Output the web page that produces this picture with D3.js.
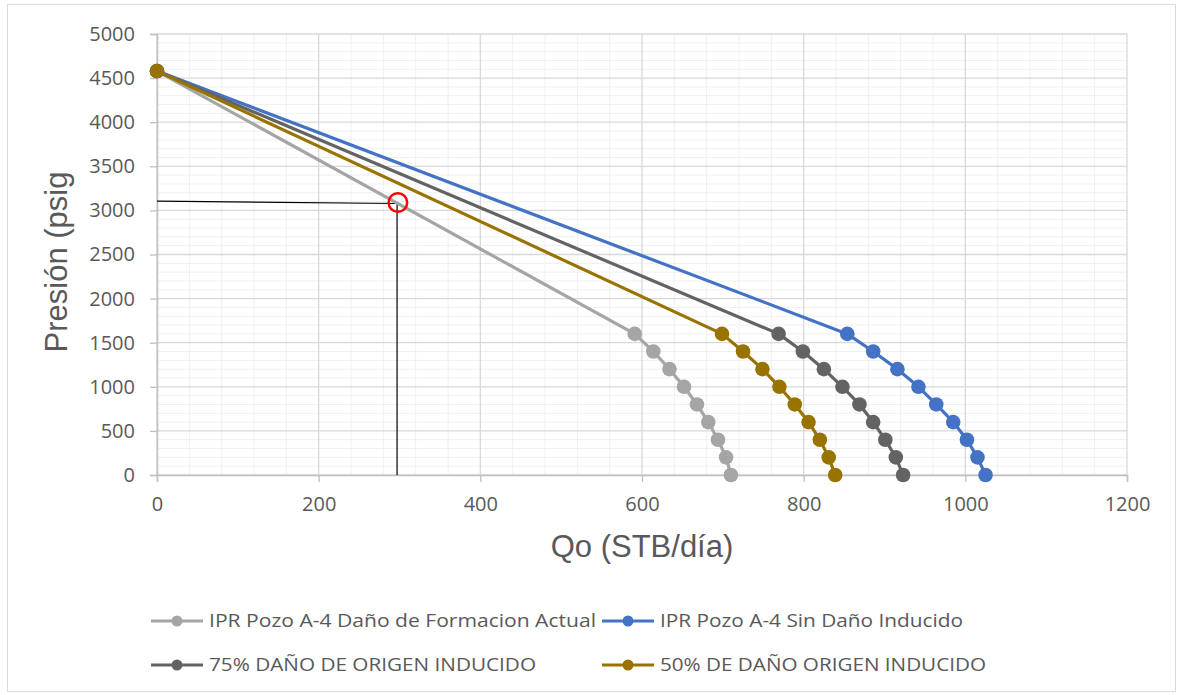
<!DOCTYPE html>
<html><head><meta charset="utf-8">
<script src="https://cdn.jsdelivr.net/npm/d3@7"></script>
<style>
body{margin:0;background:#fff;}
svg{display:block;}
</style></head>
<body>
<svg id="c" width="1178" height="695"></svg>
<script>
// ---- data ----
const pressures = [4580, 1600, 1400, 1200, 1000, 800, 600, 400, 200, 0];
const qActual   = [0, 591, 614, 634, 652, 668, 682, 694, 704, 710];
const qSinDano  = [0, 854, 886, 916, 942, 964, 985, 1002, 1015, 1025];
const q75       = [0, 769, 799, 825, 848, 869, 886, 901, 914, 923];
const q50       = [0, 699, 725, 749, 770, 789, 806, 820, 831, 839];
const seriesNames = ["IPR Pozo A-4 Daño de Formacion Actual", "IPR Pozo A-4 Sin Daño Inducido",
                     "75% DAÑO DE ORIGEN INDUCIDO", "50% DE DAÑO ORIGEN INDUCIDO"];
const xTicks = [0, 200, 400, 600, 800, 1000, 1200];
const yTicks = [0, 500, 1000, 1500, 2000, 2500, 3000, 3500, 4000, 4500, 5000];
const refLineQ = 297, refLineP0 = 3105, refLineP1 = 3078;
const refPoint = {q: 298, p: 3090};

const colors = ["#a5a5a5", "#4472c4", "#636363", "#997300"];
const seriesQ = [qActual, qSinDano, q75, q50];

const svg = d3.select("#c");
svg.append("rect").attr("x",7.5).attr("y",4.5).attr("width",1168).attr("height",687)
  .attr("fill","#fff").attr("stroke","#d9d9d9").attr("stroke-width",1);

const x = d3.scaleLinear().domain([0,1200]).range([157,1127]);
const y = d3.scaleLinear().domain([0,5000]).range([475,34]);

// minor grid
const g = svg.append("g");
const xMinor = d3.range(0,1201,40).filter(v => v % 200 !== 0);
const yMinor = d3.range(0,5001,100).filter(v => v % 500 !== 0);
g.selectAll(".xm").data(xMinor).join("line")
  .attr("x1",d=>x(d)).attr("x2",d=>x(d)).attr("y1",y(0)).attr("y2",y(5000))
  .attr("stroke","#f0f0f0").attr("stroke-width",1);
g.selectAll(".ym").data(yMinor).join("line")
  .attr("x1",x(0)).attr("x2",x(1200)).attr("y1",d=>y(d)).attr("y2",d=>y(d))
  .attr("stroke","#f0f0f0").attr("stroke-width",1);
// major grid
g.selectAll(".xM").data(xTicks).join("line")
  .attr("x1",d=>x(d)).attr("x2",d=>x(d)).attr("y1",y(0)).attr("y2",y(5000))
  .attr("stroke","#d9d9d9").attr("stroke-width",1.3);
g.selectAll(".yM").data(yTicks).join("line")
  .attr("x1",x(0)).attr("x2",x(1200)).attr("y1",d=>y(d)).attr("y2",d=>y(d))
  .attr("stroke","#d9d9d9").attr("stroke-width",1.3);

// axes
const font = "'Open Sans', 'Noto Sans', sans-serif";
const xAxis = svg.append("g").attr("transform",`translate(0,${y(0)})`)
  .call(d3.axisBottom(x).tickValues(xTicks).tickSize(7).tickPadding(15).tickFormat(d3.format("d")));
const yAxis = svg.append("g").attr("transform",`translate(${x(0)},0)`)
  .call(d3.axisLeft(y).tickValues(yTicks).tickSize(7).tickPadding(15).tickFormat(d3.format("d")));
[xAxis,yAxis].forEach(a=>{
  a.select(".domain").attr("stroke","#bfbfbf").attr("stroke-width",1.5);
  a.selectAll(".tick line").attr("stroke","#bfbfbf").attr("stroke-width",1.3);
  a.selectAll(".tick text").attr("fill","#595959").style("font-family",font).style("font-size","20px");
});

// reference lines
svg.append("line").attr("x1",x(0)).attr("y1",y(refLineP0)).attr("x2",x(refLineQ)).attr("y2",y(refLineP1))
  .attr("stroke","#000").attr("stroke-width",1.2);
svg.append("line").attr("x1",x(refLineQ)).attr("y1",y(refLineP1)).attr("x2",x(refLineQ)).attr("y2",y(0))
  .attr("stroke","#000").attr("stroke-width",1.2);

// series
const line = d3.line().x(d=>x(d[0])).y(d=>y(d[1]));
seriesQ.forEach((qs,i)=>{
  const pts = qs.map((q,j)=>[q,pressures[j]]);
  const sg = svg.append("g");
  sg.append("path").datum(pts).attr("d",line).attr("fill","none")
    .attr("stroke",colors[i]).attr("stroke-width",3.2).attr("stroke-linejoin","round");
  sg.selectAll("circle").data(pts).join("circle")
    .attr("cx",d=>x(d[0])).attr("cy",d=>y(d[1])).attr("r",7.3).attr("fill",colors[i]);
});

// red circle
svg.append("circle").attr("cx",x(refPoint.q)).attr("cy",y(refPoint.p)).attr("r",9.3)
  .attr("fill","none").attr("stroke","#ff0000").attr("stroke-width",2.5);

// axis titles
const tfont = "'Liberation Sans', Arial, sans-serif";
svg.append("text").attr("x",642).attr("y",557).attr("text-anchor","middle")
  .style("font-family",tfont).style("font-size","31px").attr("fill","#595959").text("Qo (STB/día)");
svg.append("text").attr("transform","translate(67,262) rotate(-90)").attr("text-anchor","middle")
  .style("font-family",tfont).style("font-size","31px").attr("fill","#595959").text("Presión (psig");

// legend
const legPos = [[151,621],[602,621],[151,665],[602,665]];
const legW = [387, 303, 327, 326];
seriesNames.forEach((name,i)=>{
  const [lx,ly] = legPos[i];
  const lg = svg.append("g");
  lg.append("line").attr("x1",lx).attr("x2",lx+52).attr("y1",ly).attr("y2",ly)
    .attr("stroke",colors[i]).attr("stroke-width",3.2);
  lg.append("circle").attr("cx",lx+26).attr("cy",ly).attr("r",5.5).attr("fill",colors[i]);
  lg.append("text").attr("x",lx+58).attr("y",ly).attr("dy","0.35em")
    .style("font-family",font).style("font-size","18px").attr("fill","#595959")
    .attr("textLength",legW[i]).attr("lengthAdjust","spacingAndGlyphs").text(name);
});
</script>
</body></html>
